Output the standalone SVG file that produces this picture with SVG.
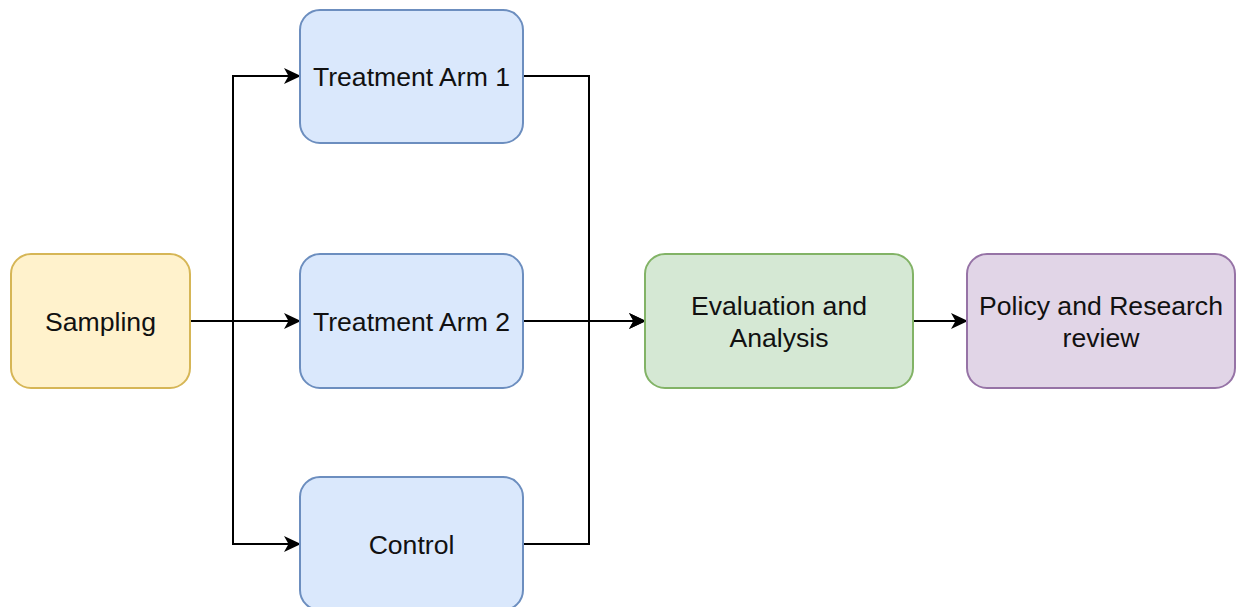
<svg xmlns="http://www.w3.org/2000/svg" width="1236" height="607" viewBox="0 0 1236 607">
  <style>
    .box { stroke-width: 2; }
    .yellow { fill: #fff2cc; stroke: #d6b656; }
    .blue { fill: #dae8fc; stroke: #6c8ebf; }
    .green { fill: #d5e8d4; stroke: #82b366; }
    .purple { fill: #e1d5e7; stroke: #9673a6; }
    .label { font-family: "Liberation Sans", Arial, sans-serif; font-size: 26.6px; fill: #111; text-anchor: middle; }
    .wire { fill: none; stroke: #000; stroke-width: 2; }
  </style>
  <defs>
    <marker id="arrow" viewBox="0 0 17 18" refX="16" refY="9" markerWidth="17" markerHeight="18" markerUnits="userSpaceOnUse" orient="auto">
      <path d="M0,1 L17,9 L0,17 L4.5,9 Z" fill="#000"/>
    </marker>
  </defs>
  <rect width="1236" height="607" fill="#fff"/>

  <g id="connectors">
    <path class="wire" d="M190,321 L300,321" marker-end="url(#arrow)"/>
    <path class="wire" d="M233,321 L233,76 L300,76" marker-end="url(#arrow)"/>
    <path class="wire" d="M233,321 L233,544 L300,544" marker-end="url(#arrow)"/>
    <path class="wire" d="M523,76 L589,76 L589,321 L645,321" marker-end="url(#arrow)"/>
    <path class="wire" d="M523,544 L589,544 L589,321"/>
    <path class="wire" d="M523,321 L645,321" marker-end="url(#arrow)"/>
    <path class="wire" d="M913,321 L967,321" marker-end="url(#arrow)"/>
  </g>

  <g id="sampling">
    <rect class="box yellow" x="11" y="254" width="179" height="134" rx="20"/>
    <text class="label" x="100.5" y="331">Sampling</text>
  </g>
  <g id="treatment-arm-1">
    <rect class="box blue" x="300" y="10" width="223" height="133" rx="20"/>
    <text class="label" x="411.5" y="86">Treatment Arm 1</text>
  </g>
  <g id="treatment-arm-2">
    <rect class="box blue" x="300" y="254" width="223" height="134" rx="20"/>
    <text class="label" x="411.5" y="331">Treatment Arm 2</text>
  </g>
  <g id="control">
    <rect class="box blue" x="300" y="477" width="223" height="133" rx="20"/>
    <text class="label" x="411.5" y="554">Control</text>
  </g>
  <g id="evaluation">
    <rect class="box green" x="645" y="254" width="268" height="134" rx="20"/>
    <text class="label" x="779" y="315">Evaluation and</text>
    <text class="label" x="779" y="347">Analysis</text>
  </g>
  <g id="policy-review">
    <rect class="box purple" x="967" y="254" width="268" height="134" rx="20"/>
    <text class="label" x="1101" y="315">Policy and Research</text>
    <text class="label" x="1101" y="347">review</text>
  </g>
</svg>
